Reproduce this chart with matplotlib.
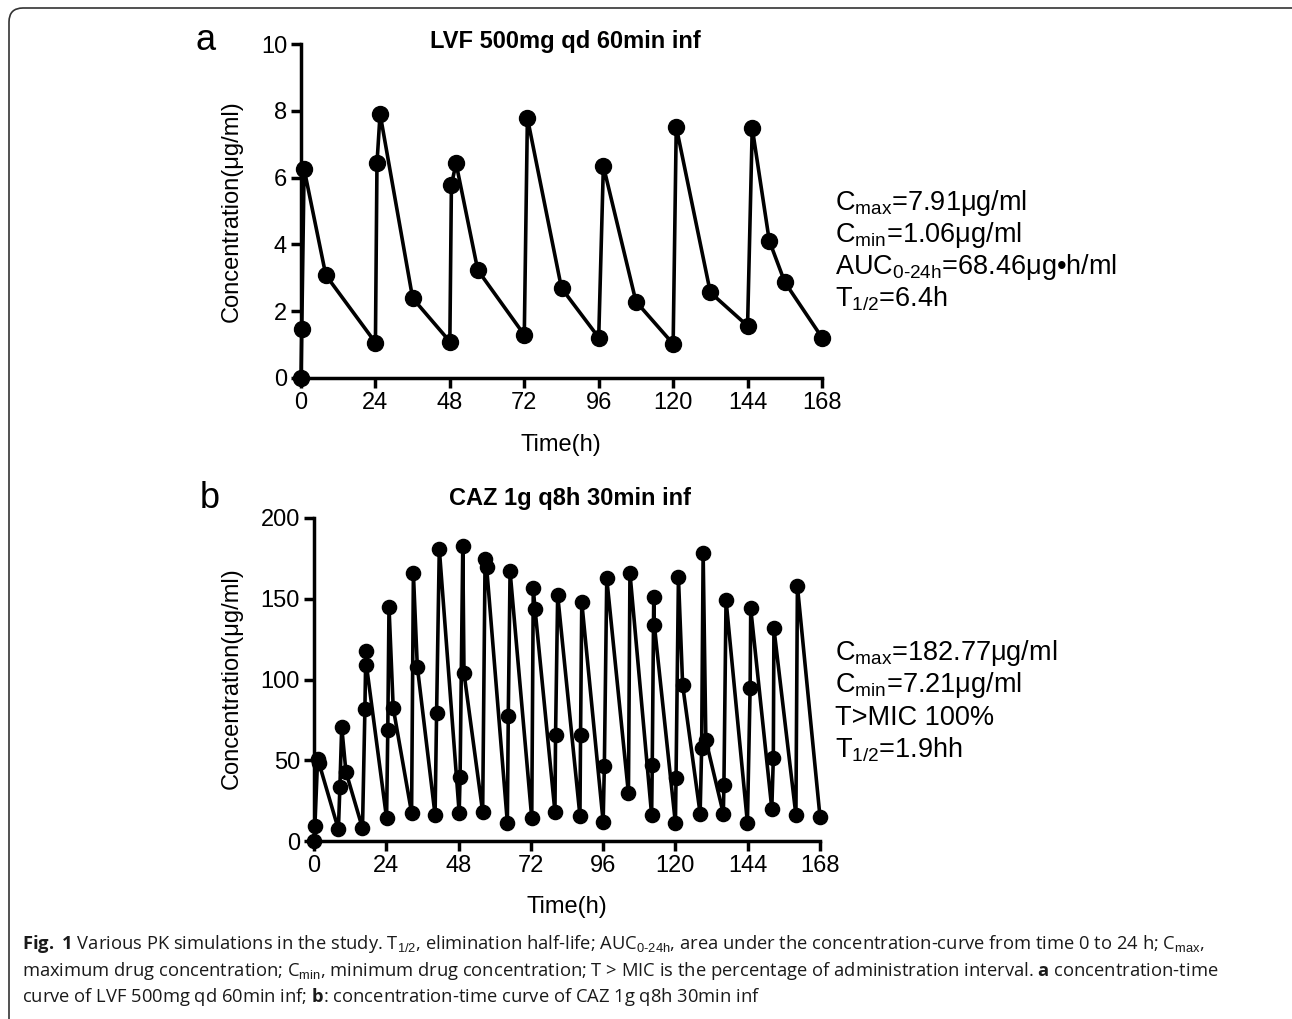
import matplotlib
matplotlib.use("Agg")
import matplotlib.pyplot as plt
from matplotlib.patches import FancyBboxPatch
from matplotlib.transforms import IdentityTransform

plt.rcParams['mathtext.fontset'] = 'custom'
plt.rcParams['mathtext.rm'] = 'Liberation Sans'
plt.rcParams['mathtext.bf'] = 'Open Sans:bold'

# panel a - LVF 500mg qd 60min inf
time_a = [0, 0.25, 1, 8, 24, 24.5, 25.5, 36, 48, 48.5, 50, 57, 72, 73, 84,
          96, 97.5, 108, 120, 121, 132, 144, 145.5, 151, 156, 168]
conc_a = [0, 1.48, 6.26, 3.08, 1.06, 6.43, 7.91, 2.39, 1.09, 5.78, 6.43, 3.23,
          1.29, 7.79, 2.69, 1.21, 6.35, 2.29, 1.02, 7.52, 2.56, 1.56, 7.49,
          4.11, 2.87, 1.21]

# panel b - CAZ 1g q8h 30min inf
time_b = [0, 0.3, 1.2, 1.7, 8.1, 8.6, 9.2, 10.6, 16.1, 16.9, 17.2, 17.4,
          24.1, 24.5, 24.9, 26.3, 32.4, 33, 34.3, 40.2, 40.7, 41.6,
          48.2, 48.5, 49.4, 49.8, 56, 56.8, 57.3, 64.2, 64.5, 65.1,
          72.3, 72.8, 73.4, 80, 80.2, 80.9, 88.3, 88.5, 88.9,
          96, 96.4, 97.2, 104.4, 104.9, 112.1, 112.3, 112.8, 113,
          120, 120.2, 121, 122.4, 128.2, 128.7, 129.2, 130.1,
          135.9, 136.1, 136.8, 143.9, 144.8, 145, 152, 152.5, 152.7,
          160, 160.5, 168]
conc_b = [0, 9.3, 51, 48, 7.2, 33.6, 70.8, 42.9, 7.9, 81.5, 117.6, 109,
          14.1, 68.7, 145, 82.4, 17.5, 165.7, 108, 16.1, 79, 181,
          17.5, 39.8, 182.8, 104, 18, 174.4, 169.9, 11.3, 77.4, 167,
          14.1, 156.4, 143.4, 18, 65.6, 152.3, 15.5, 65.6, 148,
          11.9, 46.4, 162.6, 29.5, 166, 16.1, 47, 151.3, 133.7,
          10.9, 39.2, 163.2, 96.5, 17, 57.3, 178.5, 62.5,
          17, 34.7, 149.2, 11.3, 94.8, 144, 20, 51.2, 131.6,
          16.1, 157.8, 15]

xticks = [0, 24, 48, 72, 96, 120, 144, 168]
yticks_a = [0, 2, 4, 6, 8, 10]
yticks_b = [0, 50, 100, 150, 200]

stats_a = [r"C$_{\mathrm{max}}$=7.91μg/ml", r"C$_{\mathrm{min}}$=1.06μg/ml",
           r"AUC$_{\text{0-24h}}$=68.46μg•h/ml", r"T$_{\mathrm{1/2}}$=6.4h"]
stats_b = [r"C$_{\mathrm{max}}$=182.77μg/ml", r"C$_{\mathrm{min}}$=7.21μg/ml",
           "T>MIC 100%", r"T$_{\mathrm{1/2}}$=1.9hh"]

caption = [
    r"$\mathbf{Fig.}$ $\mathbf{1}$ Various PK simulations in the study. T$_{\mathrm{1/2}}$, elimination half-life; "
    r"AUC$_{\text{0-24h}}$, area under the concentration-curve from time 0 to 24 h; C$_{\mathrm{max}}$,",
    r"maximum drug concentration; C$_{\mathrm{min}}$, minimum drug concentration; T > MIC is the percentage "
    r"of administration interval. $\mathbf{a}$ concentration-time",
    r"curve of LVF 500mg qd 60min inf; $\mathbf{b}$: concentration-time curve of CAZ 1g q8h 30min inf",
]

W, H = 1292, 1019
fig = plt.figure(figsize=(W / 100, H / 100), dpi=100)
sans = 'Liberation Sans'


def px(x, y):
    return x / W, 1 - y / H


def box(l, t, r, b):
    return [l / W, 1 - b / H, (r - l) / W, (b - t) / H]


def panel(rect, t, c, yt, ms):
    ax = fig.add_axes(rect)
    ax.plot(t, c, color='black', lw=2.6, marker='o', ms=ms, clip_on=False, zorder=3)
    ax.set_xlim(0, 168)
    ax.set_ylim(yt[0], yt[-1])
    ax.set_xticks(xticks)
    ax.set_yticks(yt)
    for s in ['top', 'right']:
        ax.spines[s].set_visible(False)
    for s in ['left', 'bottom']:
        ax.spines[s].set_linewidth(2.5)
    ax.tick_params(direction='out', length=7, width=2.5, pad=3)
    for lab in ax.get_xticklabels() + ax.get_yticklabels():
        lab.set_family(sans)
        lab.set_fontsize(17)
    return ax


panel(box(301, 44, 822, 378), time_a, conc_a, yticks_a, 11.5)
panel(box(314, 518, 820, 841), time_b, conc_b, yticks_b, 10.2)

# titles, panel letters, axis labels
fig.text(*px(565, 48), "LVF 500mg qd 60min inf", ha='center', va='baseline',
         family=sans, weight='bold', fontsize=17)
fig.text(*px(570, 505), "CAZ 1g q8h 30min inf", ha='center', va='baseline',
         family=sans, weight='bold', fontsize=17)
fig.text(*px(206, 50), "a", ha='center', va='baseline', family=sans, fontsize=26)
fig.text(*px(210, 508), "b", ha='center', va='baseline', family=sans, fontsize=26)
for xc, yc in [(561, 445), (567, 907)]:
    fig.text(*px(xc, yc), "Time(h)", ha='center', va='center', family=sans, fontsize=17)
for yc in [211, 678]:
    fig.text(*px(232, yc), "Concentration(μg/ml)", ha='center', va='center',
             rotation=90, family=sans, fontsize=17)

for i, s in enumerate(stats_a):
    fig.text(*px(835, 210 + 32 * i), s, ha='left', va='baseline',
             family=sans, fontsize=19.5)
for i, s in enumerate(stats_b):
    fig.text(*px(835, 660 + 32.5 * i), s, ha='left', va='baseline',
             family=sans, fontsize=19.5)

for i, s in enumerate(caption):
    fig.text(*px(22, 949 + 26.5 * i), s, ha='left', va='baseline',
             family='Open Sans', fontsize=13.2, color='#1a1a1a')

# rounded frame around the whole figure
frame = FancyBboxPatch((9, -30), 1300, H - 8 + 30, boxstyle="round,pad=0,rounding_size=14",
                       transform=IdentityTransform(), fill=False, lw=1.2, ec='#333333')
fig.patches.append(frame)

fig.savefig("out.png", dpi=100)
